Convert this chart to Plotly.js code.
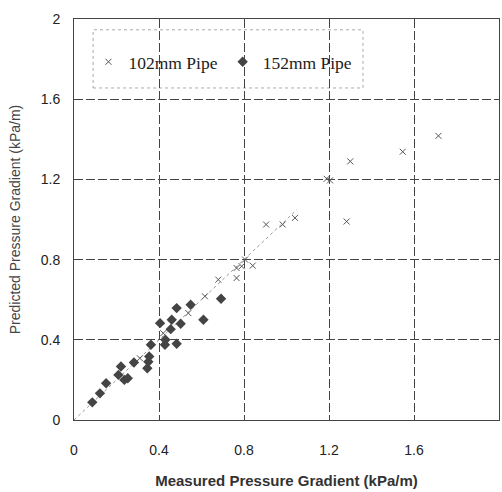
<!DOCTYPE html>
<html><head><meta charset="utf-8">
<script src="https://cdn.plot.ly/plotly-3.0.1.min.js"></script>
<style>body{margin:0;background:#fff}#g{width:502px;height:492px}</style>
</head><body><div id="g"></div>
<script>
const pipe102X = [0.31, 0.42, 0.538, 0.616, 0.679, 0.765, 0.765, 0.789, 0.805, 0.841, 0.904, 0.982, 1.04, 1.189, 1.205, 1.283, 1.30, 1.547, 1.715];
const pipe102Y = [0.308, 0.433, 0.533, 0.617, 0.70, 0.708, 0.758, 0.767, 0.80, 0.77, 0.975, 0.975, 1.008, 1.203, 1.195, 0.99, 1.29, 1.338, 1.417];
const pipe152X = [0.086, 0.122, 0.151, 0.209, 0.221, 0.237, 0.253, 0.282, 0.345, 0.35, 0.354, 0.362, 0.405, 0.428, 0.43, 0.455, 0.46, 0.483, 0.483, 0.502, 0.549, 0.609, 0.692];
const pipe152Y = [0.088, 0.133, 0.183, 0.225, 0.267, 0.20, 0.208, 0.287, 0.258, 0.29, 0.317, 0.375, 0.483, 0.375, 0.40, 0.453, 0.50, 0.558, 0.38, 0.48, 0.575, 0.50, 0.605];
const lineX = [0, 1.05];
const lineY = [0, 1.05];
const ticks = [0, 0.4, 0.8, 1.2, 1.6, 2];
const tickText = ['0', '0.4', '0.8', '1.2', '1.6', '2'];

const traces = [
  {x: lineX, y: lineY, mode: 'lines', line: {color: '#999', width: 1, dash: 'dot'}, showlegend: false, hoverinfo: 'skip'},
  {x: pipe102X, y: pipe102Y, mode: 'markers', name: '102mm Pipe',
   marker: {symbol: 'x-thin', size: 6, line: {color: '#555', width: 1}, color: '#555'}},
  {x: pipe152X, y: pipe152Y, mode: 'markers', name: '152mm Pipe',
   marker: {symbol: 'diamond', size: 8, color: '#444'}}
];
const axisCommon = {
  range: [0, 2], tickvals: ticks, ticktext: tickText, showgrid: true,
  gridcolor: '#444', griddash: '9px,3px', gridwidth: 1, zeroline: false,
  showline: true, linecolor: '#444', linewidth: 1, mirror: true,
  ticks: '', tickfont: {family: 'Liberation Sans, Arial', size: 14, color: '#222'}
};
const layout = {
  width: 502, height: 492,
  margin: {l: 74, r: 3, t: 19, b: 72},
  paper_bgcolor: '#fff', plot_bgcolor: '#fff',
  xaxis: Object.assign({}, axisCommon, {
    title: {text: '<b>Measured Pressure Gradient (kPa/m)</b>', font: {family: 'Liberation Sans, Arial', size: 15, color: '#333'}, standoff: 18},
    ticklabelstandoff: 17
  }),
  yaxis: Object.assign({}, axisCommon, {
    title: {text: 'Predicted Pressure Gradient (kPa/m)', font: {family: 'Liberation Sans, Arial', size: 14, color: '#444'}, standoff: 16},
    ticklabelstandoff: 10
  }),
  legend: {orientation: 'h', x: 0.034, y: 0.893, xanchor: 'left', yanchor: 'middle',
    bgcolor: 'rgba(255,255,255,0)', borderwidth: 0, itemwidth: 30,
    font: {family: 'Liberation Serif, Times New Roman', size: 17.5, color: '#222'}},
  shapes: [
    {type: 'rect', xref: 'paper', yref: 'paper', x0: 0.045, x1: 0.68, y0: 0.828, y1: 0.973,
     line: {color: '#aaa', width: 1, dash: 'dot'}, fillcolor: '#fff', layer: 'below'}
  ]
};
Plotly.newPlot('g', traces, layout, {displayModeBar: false, staticPlot: true});
</script></body></html>
